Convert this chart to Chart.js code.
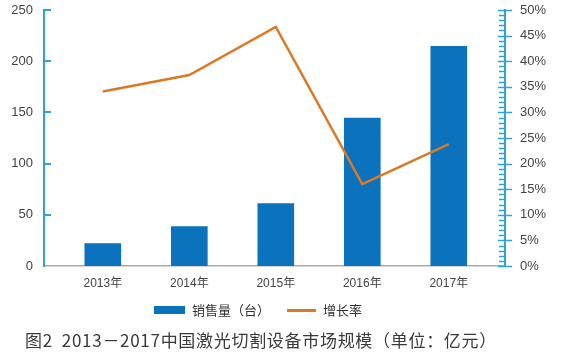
<!DOCTYPE html>
<html><head><meta charset="utf-8">
<script src="https://cdn.jsdelivr.net/npm/chart.js@4/dist/chart.umd.min.js"></script>
<style>
html,body{margin:0;padding:0;background:#fff}
body{width:581px;height:355px;overflow:hidden;position:relative;font-family:"Liberation Sans","Noto Sans CJK SC",sans-serif}
#wrap{position:absolute;left:0;top:0;width:581px;height:355px}
.lg{position:absolute;font-family:"Noto Sans CJK SC",sans-serif;font-size:13px;color:#333;line-height:16px}
#title{position:absolute;left:25px;top:329px;font-family:"Noto Sans CJK SC",sans-serif;font-size:17px;color:#3a3a3a;white-space:nowrap;line-height:22px;letter-spacing:0.7px}
</style></head>
<body>
<div id="wrap"><canvas id="c" width="581" height="355"></canvas></div>
<div class="lg" style="left:154px;top:306px;width:31px;height:8px;background:#0b72bd"></div>
<div class="lg" style="left:192px;top:302px">销售量（台）</div>
<div class="lg" style="left:287px;top:309px;width:29px;height:2.5px;background:#dc7a24"></div>
<div class="lg" style="left:323px;top:302px">增长率</div>
<div id="title">图2&nbsp;&nbsp;2013－2017中国激光切割设备市场规模（单位：亿元）</div>
<script>
const years = ['2013年','2014年','2015年','2016年','2017年'];
const sales = [22, 38.5, 61, 144.5, 214.5];
const growth = [34.1, 37.3, 46.7, 16.0, 23.8];
const leftTicks = [0, 50, 100, 150, 200, 250];
const rightTicks = [0, 5, 10, 15, 20, 25, 30, 35, 40, 45, 50];

const AXIS = '#2fa2d6';
const tickPlugin = {
  id: 'axisTicks',
  afterDraw(chart) {
    const ctx = chart.ctx;
    const y = chart.scales.y, y1 = chart.scales.y1;
    ctx.save();
    ctx.strokeStyle = AXIS;
    ctx.lineWidth = 2;
    leftTicks.forEach(v => {
      if (v === 0) return;
      const py = Math.round(y.getPixelForValue(v));
      ctx.beginPath(); ctx.moveTo(y.right, py); ctx.lineTo(y.right + 7, py); ctx.stroke();
    });
    const rx = y1.left;
    ctx.lineWidth = 1.5;
    for (let v = 0; v <= 50; v++) {
      const py = Math.round(y1.getPixelForValue(v)) + 0.5;
      ctx.beginPath();
      if (v % 5 === 0) { ctx.moveTo(rx - 7, py); ctx.lineTo(rx + 7, py); }
      else { ctx.moveTo(rx - 6, py); ctx.lineTo(rx, py); }
      ctx.stroke();
    }
    ctx.restore();
  }
};

function noPad(s) { s.paddingTop = 0; s.paddingBottom = 0; s.paddingLeft = 0; s.paddingRight = 0; }

new Chart(document.getElementById('c'), {
  type: 'bar',
  data: {
    datasets: [
      {
        type: 'line', label: '增长率', yAxisID: 'y1', xAxisID: 'x',
        data: growth.map((v, i) => ({ x: i, y: v })),
        borderColor: '#dc7a24', borderWidth: 2.5, pointRadius: 0, tension: 0, fill: false
      },
      {
        type: 'bar', label: '销售量（台）', yAxisID: 'y', xAxisID: 'x',
        data: sales.map((v, i) => ({ x: i, y: v })),
        backgroundColor: '#0b72bd', barThickness: 36
      }
    ]
  },
  options: {
    responsive: false, animation: false,
    layout: { padding: { top: 10, left: 0, right: 0, bottom: 0 } },
    plugins: { legend: { display: false }, tooltip: { enabled: false } },
    scales: {
      x: {
        type: 'linear', min: -0.68, max: 4.65, offset: false, bounds: 'ticks',
        afterBuildTicks(s) { s.ticks = years.map((_, i) => ({ value: i })); },
        afterFit(s) { s.height = 89; noPad(s); },
        grid: { display: false, drawTicks: false, offset: false },
        border: { color: '#a9a9a9', width: 1.5 },
        ticks: { callback: v => years[v], color: '#444', font: { family: '"Liberation Sans","Noto Sans CJK SC"', size: 12 }, padding: 10, maxRotation: 0, autoSkip: false }
      },
      y: {
        position: 'left', min: 0, max: 250,
        afterBuildTicks(s) { s.ticks = leftTicks.map(v => ({ value: v })); },
        afterFit(s) { s.width = 44; noPad(s); },
        grid: { display: false, drawTicks: false },
        border: { color: AXIS, width: 2 },
        ticks: { color: '#444', font: { family: '"Liberation Sans"', size: 13 }, padding: 11 }
      },
      y1: {
        position: 'right', min: 0, max: 50,
        afterBuildTicks(s) { s.ticks = rightTicks.map(v => ({ value: v })); },
        afterFit(s) { s.width = 76; noPad(s); },
        grid: { display: false, drawTicks: false },
        border: { color: AXIS, width: 2 },
        ticks: { callback: v => v + '%', color: '#444', font: { family: '"Liberation Sans"', size: 13 }, padding: 15 }
      }
    }
  },
  plugins: [tickPlugin]
});
</script>
</body></html>
